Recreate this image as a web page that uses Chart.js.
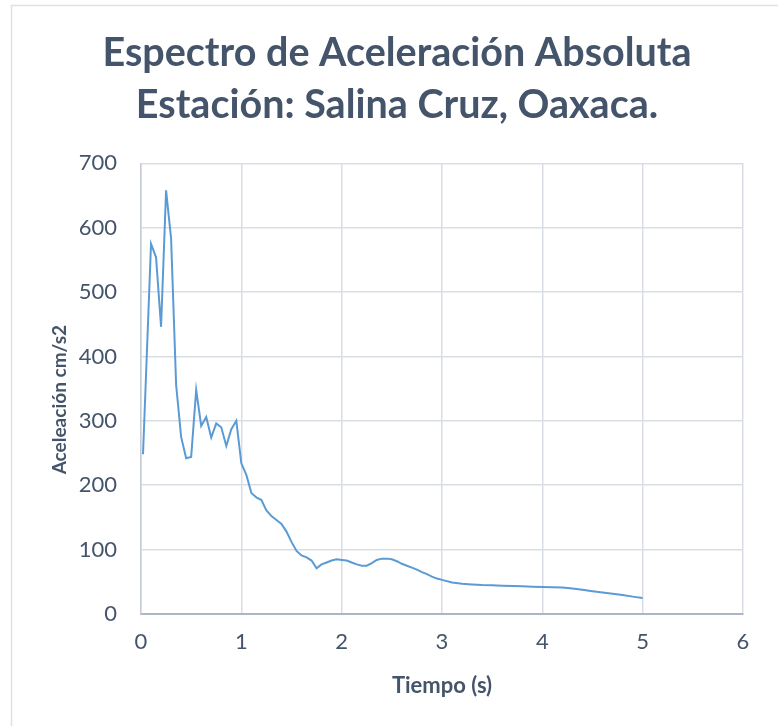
<!DOCTYPE html>
<html>
<head>
<meta charset="utf-8">
<script src="https://cdn.jsdelivr.net/npm/chart.js@4"></script>
<style>
  body { margin: 0; background: #fff; }
  canvas { display: block; }
</style>
</head>
<body>
<canvas id="spectrum-chart" width="778" height="726"></canvas>
<script>
// periodo (s) y aceleracion (cm/s2)
const periods = [
  0.02, 0.1, 0.15, 0.2, 0.25, 0.3, 0.35, 0.4, 0.45, 0.5,
  0.55, 0.6, 0.65, 0.7, 0.75, 0.8, 0.85, 0.9, 0.95, 1.0,
  1.05, 1.1, 1.15, 1.2, 1.25, 1.3, 1.35, 1.4, 1.45, 1.5,
  1.55, 1.6, 1.65, 1.7, 1.75, 1.8, 1.85, 1.9, 1.95, 2.0,
  2.05, 2.1, 2.15, 2.2, 2.25, 2.3, 2.35, 2.4, 2.45, 2.5,
  2.55, 2.6, 2.65, 2.7, 2.75, 2.8, 2.85, 2.9, 2.95, 3.0,
  3.1, 3.2, 3.3, 3.4, 3.5, 3.6, 3.7, 3.8, 3.9, 4.0,
  4.1, 4.2, 4.3, 4.4, 4.5, 4.6, 4.7, 4.8, 4.9, 5.0
];
const accel = [
  248, 575, 554, 446, 658, 583, 356, 275, 242, 244,
  348, 292, 306, 274, 296, 290, 261, 287, 300, 234,
  216, 188, 181, 177, 161, 152, 146, 140, 128, 112,
  98, 91, 88, 83, 71, 77, 80, 83, 85, 84,
  83, 80, 77, 75, 75, 79, 84, 86, 86, 85,
  82, 78, 75, 72, 69, 65, 62, 58, 55, 53,
  49, 47, 46, 45, 44.5, 44, 43.5, 43, 42.5, 42,
  41.5, 41, 39.5, 37.5, 35.5, 33.5, 31.5, 29.5, 27, 24.7
];
const titleLines = ["Espectro de Aceleración Absoluta", "Estación: Salina Cruz, Oaxaca."];
const xTitle = "Tiempo (s)";
const yTitle = "Aceleación cm/s2";

const textColor = "#44546a";
const gridColor = "#d9dde5";

const points = periods.map((t, i) => ({ x: t, y: accel[i] }));

// marco gris claro alrededor del grafico
const framePlugin = {
  id: "frame",
  beforeDraw(chart) {
    const c = chart.ctx;
    c.save();
    c.fillStyle = "#fff";
    c.fillRect(0, 0, chart.width, chart.height);
    c.strokeStyle = "#dbe1ea";
    c.lineWidth = 1.5;
    c.strokeRect(11.5, 5.5, 800, 800);
    c.restore();
  }
};

// titulo del eje Y dibujado a mano para poder bajarlo un poco
const yTitlePlugin = {
  id: "yTitle",
  afterDraw(chart) {
    const area = chart.chartArea;
    const c = chart.ctx;
    c.save();
    c.translate(60, (area.top + area.bottom) / 2 + 11);
    c.rotate(-Math.PI / 2);
    c.font = "bold 19px Lato";
    c.fillStyle = textColor;
    c.textAlign = "center";
    c.textBaseline = "middle";
    c.fillText(yTitle, 0, 0);
    c.restore();
  }
};

new Chart(document.getElementById("spectrum-chart"), {
  type: "scatter",
  data: {
    datasets: [{
      label: "Espectro",
      data: points,
      showLine: true,
      borderColor: "#5b9bd5",
      borderWidth: 2,
      pointRadius: 0,
      fill: false,
      tension: 0
    }]
  },
  options: {
    responsive: false,
    animation: false,
    // el titulo se centra sobre el marco (x 16..778)
    layout: { padding: { left: 16, right: 0, top: 0, bottom: 0 } },
    plugins: {
      legend: { display: false },
      tooltip: { enabled: false },
      title: {
        display: true,
        text: titleLines,
        color: textColor,
        font: { family: "Lato", weight: "bold", size: 39.5, lineHeight: 1.32 },
        padding: { top: 27, bottom: 32 }
      }
    },
    scales: {
      x: {
        type: "linear",
        min: 0,
        max: 6,
        ticks: { stepSize: 1, color: textColor, font: { family: "Lato", size: 22 }, padding: 15 },
        grid: { color: gridColor, lineWidth: 1.5, drawTicks: false },
        border: { color: "#adb6c6", width: 2 },
        title: {
          display: true,
          text: xTitle,
          color: textColor,
          font: { family: "Lato", weight: "bold", size: 22 },
          padding: { top: 0, bottom: 27 }
        },
        afterFit(scale) { scale.height = 112; }
      },
      y: {
        min: 0,
        max: 700,
        ticks: { stepSize: 100, color: textColor, font: { family: "Lato", size: 22 }, padding: 24 },
        grid: { color: gridColor, lineWidth: 1.5, drawTicks: false },
        border: { color: "#c5ccd8", width: 1.5 },
        title: { display: false },
        afterFit(scale) { scale.width = 125; }
      },
      // eje vacio a la derecha, solo reserva el margen
      yRight: {
        position: "right",
        display: true,
        grid: { display: false },
        border: { display: false },
        ticks: { display: false },
        afterFit(scale) { scale.width = 35; }
      }
    }
  },
  plugins: [framePlugin, yTitlePlugin]
});
</script>
</body>
</html>
